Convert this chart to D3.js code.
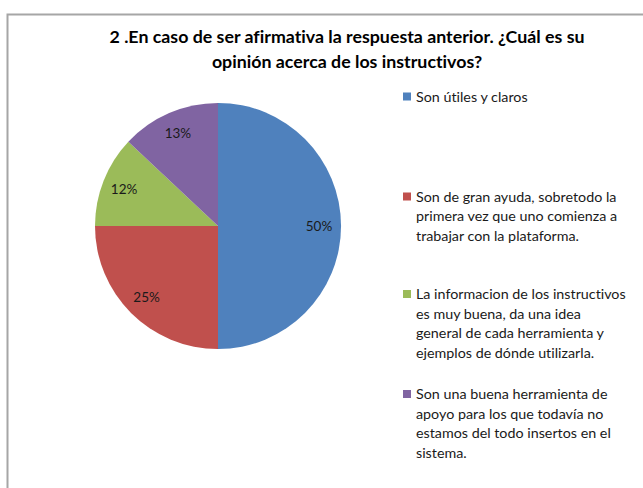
<!DOCTYPE html>
<html>
<head>
<meta charset="utf-8">
<script src="https://cdn.jsdelivr.net/npm/d3@7"></script>
<style>
  body { margin: 0; background: #fff; }
  text { font-family: Lato, "Open Sans", sans-serif; font-variant-ligatures: none; }
</style>
</head>
<body>
<div id="chart"></div>
<script>
// chart data
let categories = [
  "Son útiles y claros",
  "Son de gran ayuda, sobretodo la primera vez que uno comienza a trabajar con la plataforma.",
  "La informacion de los instructivos es muy buena, da una idea general de cada herramienta y ejemplos de dónde utilizarla.",
  "Son una buena herramienta de apoyo para los que todavía no estamos del todo insertos en el sistema.",
];
let values = [50, 25, 12, 13];
// legend text, broken as in the picture
let legendLines = [
  ["Son útiles y claros"],
  ["Son de gran ayuda, sobretodo la", "primera vez que uno comienza a", "trabajar con la plataforma."],
  ["La informacion de los instructivos", "es muy buena, da una idea", "general de cada herramienta y", "ejemplos de dónde utilizarla."],
  ["Son una buena herramienta de", "apoyo para los que todavía no", "estamos del todo insertos en el", "sistema."],
];
let titleLines = [
  "2 .En caso de ser afirmativa la respuesta anterior. ¿Cuál es su",
  "opinión acerca de los instructivos?",
];
let colors = ["#4F81BD", "#C0504D", "#9BBB59", "#8064A2"];

let width = 643, height = 488;
let svg = d3.select("#chart").append("svg")
  .attr("width", width)
  .attr("height", height);

// outer frame (runs off right and bottom)
svg.append("rect")
  .attr("x", 7.5).attr("y", 14.5)
  .attr("width", 700).attr("height", 600)
  .attr("fill", "#fff")
  .attr("stroke", "#a6a6a6")
  .attr("stroke-width", 2);

svg.append("g")
  .selectAll("text")
  .data(titleLines)
  .enter()
  .append("text")
  .text((d) => d)
  .attr("x", 347)
  .attr("y", (d, i) => 43 + i * 25)
  .attr("text-anchor", "middle")
  .attr("font-weight", "bold")
  .attr("font-size", 17.8)
  .attr("fill", "#000");

let cx = 218, cy = 226, r = 123;
let pie = d3.pie().sort(null).value((d) => d);
let arc = d3.arc().innerRadius(0).outerRadius(r);
let labelArc = d3.arc().innerRadius(101).outerRadius(101);
let arcs = pie(values);

let pg = svg.append("g").attr("transform", `translate(${cx},${cy})`);
pg.selectAll("path")
  .data(arcs)
  .enter()
  .append("path")
  .attr("d", arc)
  .attr("fill", (d, i) => colors[i]);

pg.selectAll("text")
  .data(arcs)
  .enter()
  .append("text")
  .text((d) => d.data + "%")
  .attr("x", (d) => labelArc.centroid(d)[0])
  .attr("y", (d) => labelArc.centroid(d)[1])
  .attr("text-anchor", "middle")
  .attr("dominant-baseline", "central")
  .attr("font-size", 13.5)
  .attr("fill", "#1a1a1a");

// legend
let legendTop = [92.5, 192.5, 290, 390];
let lg = svg.append("g");
let entries = lg.selectAll("g")
  .data(categories)
  .enter()
  .append("g")
  .attr("transform", (d, i) => `translate(403,${legendTop[i]})`);
entries.append("rect")
  .attr("width", 8).attr("height", 8)
  .attr("fill", (d, i) => colors[i]);
entries.each(function (d, i) {
  d3.select(this).selectAll("text")
    .data(legendLines[i])
    .enter()
    .append("text")
    .text((t) => t)
    .attr("x", 13)
    .attr("y", (t, j) => 9 + j * 19.5)
    .attr("font-size", 14.3)
    .attr("fill", "#1a1a1a");
});
</script>
</body>
</html>
